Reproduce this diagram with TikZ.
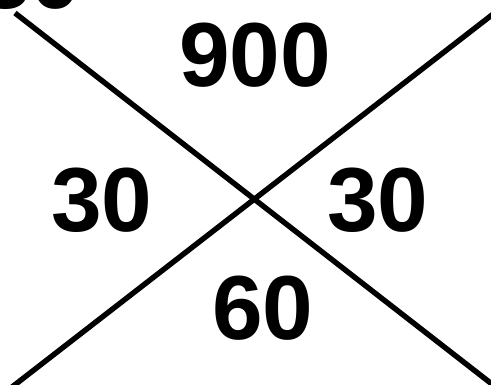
\documentclass[tikz,border=0pt]{standalone}
\usepackage{fontspec}
\setmainfont{Liberation Sans}
\usetikzlibrary{positioning}

\begin{document}
\begin{tikzpicture}[x=1pt, y=-1pt,
  num/.style={font=\fontsize{91}{91}\selectfont\bfseries, inner sep=0pt},
  bar/.style={line width=5.4pt, black}]

% Frame
\useasboundingbox (0,0) rectangle (491,384);
\clip (0,0) rectangle (491,384);

% Crossing lines
\coordinate (tl) at (15,13);
\coordinate (br) at (497,388);
\coordinate (bl) at (12,387);
\coordinate (tr) at (497,11);
\draw[bar] (tl) -- (br);
\draw[bar] (bl) -- (tr);

% Numbers
\node[num] (top) at (255,55) {900};
\node[num] (left) at (102,200) {30};
\node[num] (right) at (378,200) {30};
\node[num] (bottom) at (263,308) {60};
\node[num] (cut) at (31,-23) {30};

\end{tikzpicture}
\end{document}
